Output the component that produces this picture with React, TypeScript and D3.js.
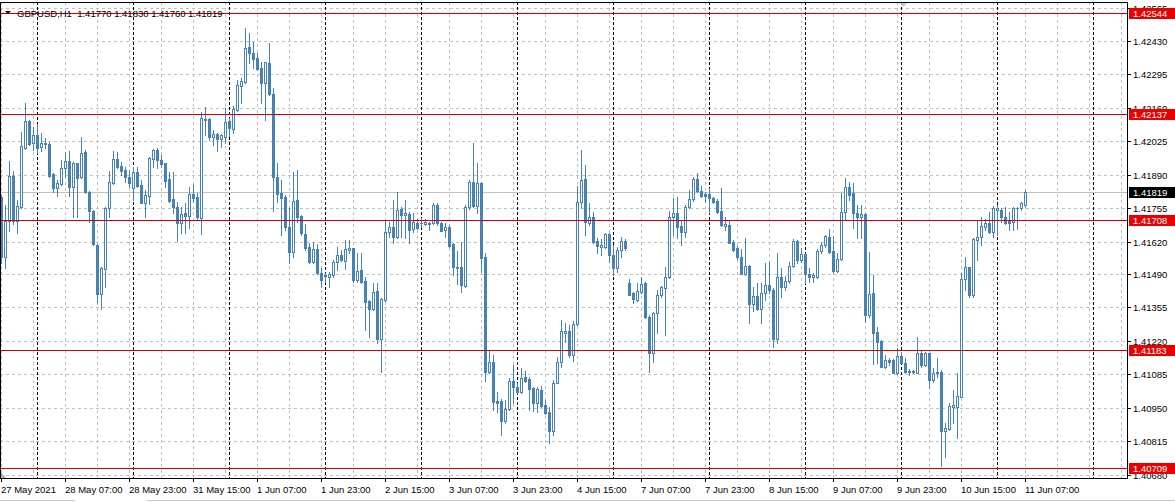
import * as React from "react"
import * as d3 from "d3"

// GBPUSD H1 candles, 27 May 2021 15:00 .. 11 Jun 2021 07:00
const symbol = "GBPUSD,H1"
const firstBar = new Date(2021, 4, 27, 15)

const opens = [
  1.41801, 1.41559, 1.41704, 1.41886, 1.41704, 1.41761, 1.41999, 1.42107, 1.42019, 1.42051,
  1.42003, 1.42019, 1.42015, 1.41894, 1.41837, 1.41854, 1.41918, 1.41947, 1.41841, 1.41938,
  1.41882, 1.41983, 1.41821, 1.41745, 1.41607, 1.4141, 1.4151, 1.41757, 1.41858, 1.41955,
  1.41926, 1.4191, 1.41882, 1.41837, 1.41902, 1.4185, 1.41777, 1.41805, 1.41955, 1.41991,
  1.41951, 1.41938, 1.41874, 1.41793, 1.41761, 1.41696, 1.41737, 1.41724, 1.41813, 1.41801,
  1.41716, 1.42111, 1.42115, 1.42043, 1.42055, 1.42035, 1.42043, 1.42107, 1.42075, 1.42152,
  1.42249, 1.42265, 1.42406, 1.42382, 1.42362, 1.42322, 1.42261, 1.42341, 1.42216, 1.41882,
  1.41817, 1.41801, 1.4168, 1.41579, 1.41789, 1.41724, 1.41652, 1.41599, 1.41539, 1.41591,
  1.41494, 1.41482, 1.41478, 1.41486, 1.41539, 1.41567, 1.41543, 1.41587, 1.41595, 1.41466,
  1.41506, 1.41462, 1.41381, 1.41349, 1.41422, 1.41227, 1.41385, 1.4166, 1.4168, 1.4164,
  1.41753, 1.41728, 1.41733, 1.41672, 1.41696, 1.41696, 1.41692, 1.41696, 1.41696, 1.41769,
  1.41696, 1.41668, 1.4168, 1.41611, 1.41518, 1.41518, 1.41442, 1.41761, 1.41862, 1.41765,
  1.41858, 1.41559, 1.41094, 1.41135, 1.40978, 1.40978, 1.40897, 1.40946, 1.41058, 1.41034,
  1.41013, 1.41074, 1.41066, 1.4103, 1.4097, 1.41021, 1.40962, 1.40934, 1.40857, 1.4105,
  1.41135, 1.41252, 1.4126, 1.41163, 1.41288, 1.41781, 1.41874, 1.41696, 1.4172, 1.41623,
  1.41599, 1.41599, 1.41652, 1.41567, 1.41514, 1.41587, 1.41623, 1.41454, 1.41414, 1.41385,
  1.41418, 1.41454, 1.41317, 1.41171, 1.41333, 1.41406, 1.41434, 1.41478, 1.4172, 1.41737,
  1.41684, 1.4166, 1.41761, 1.41793, 1.41874, 1.41825, 1.41813, 1.41813, 1.41797, 1.41785,
  1.41745, 1.41684, 1.41688, 1.41619, 1.41595, 1.41559, 1.4149, 1.41522, 1.41369, 1.41401,
  1.41349, 1.41414, 1.41446, 1.41426, 1.41227, 1.41478, 1.41438, 1.41462, 1.41522, 1.41623,
  1.41547, 1.41571, 1.4149, 1.41478, 1.41478, 1.41583, 1.41607, 1.4164, 1.41583, 1.41502,
  1.41551, 1.41741, 1.41841, 1.41817, 1.41737, 1.4172, 1.41733, 1.41325, 1.41414, 1.41256,
  1.41219, 1.41114, 1.41143, 1.41143, 1.4109, 1.41159, 1.41131, 1.41098, 1.41094, 1.4109,
  1.41171, 1.41122, 1.41171, 1.41062, 1.4109, 1.41094, 1.40857, 1.40865, 1.40954, 1.40954,
  1.40994, 1.4147, 1.41518, 1.41406, 1.41627, 1.4164, 1.4168, 1.41696, 1.4166, 1.41749,
  1.41749, 1.4172, 1.41708, 1.417, 1.41757, 1.41757, 1.4177,
]

const highs = [
  1.41809, 1.41769, 1.41947, 1.41906, 1.41789, 1.42063, 1.4218, 1.42111, 1.42083, 1.42095,
  1.42059, 1.42039, 1.42023, 1.41898, 1.4187, 1.41951, 1.41983, 1.41987, 1.41943, 1.41938,
  1.42043, 1.41991, 1.41825, 1.41749, 1.41611, 1.41518, 1.41761, 1.41906, 1.41987, 1.41983,
  1.41943, 1.41922, 1.4191, 1.41922, 1.41922, 1.4187, 1.41829, 1.41963, 1.41995, 1.41999,
  1.41971, 1.41938, 1.41902, 1.41902, 1.41781, 1.41761, 1.41777, 1.41841, 1.4185, 1.41817,
  1.42144, 1.42164, 1.42119, 1.42071, 1.42059, 1.42055, 1.4216, 1.42119, 1.42168, 1.42273,
  1.42281, 1.42483, 1.42463, 1.42426, 1.42382, 1.42346, 1.42346, 1.42422, 1.42241, 1.41938,
  1.4187, 1.41809, 1.41757, 1.41902, 1.4191, 1.41728, 1.41692, 1.41615, 1.41619, 1.41611,
  1.41514, 1.41494, 1.41498, 1.41547, 1.41599, 1.41587, 1.41627, 1.41627, 1.41595, 1.41575,
  1.41575, 1.41478, 1.41385, 1.41454, 1.41454, 1.41393, 1.41708, 1.417, 1.41789, 1.41821,
  1.41761, 1.41789, 1.41741, 1.41737, 1.41712, 1.41716, 1.41712, 1.417, 1.41777, 1.41777,
  1.417, 1.41696, 1.41688, 1.41615, 1.41583, 1.41619, 1.41769, 1.4187, 1.42019, 1.41938,
  1.41862, 1.41575, 1.41183, 1.41163, 1.41013, 1.40986, 1.40982, 1.4107, 1.41122, 1.4105,
  1.4111, 1.41098, 1.41074, 1.41034, 1.41034, 1.41038, 1.40982, 1.40954, 1.41062, 1.41155,
  1.41304, 1.41292, 1.41284, 1.413, 1.41845, 1.41991, 1.4193, 1.41777, 1.41741, 1.41636,
  1.41632, 1.41656, 1.41656, 1.41607, 1.41599, 1.4164, 1.41632, 1.4147, 1.41418, 1.41454,
  1.41478, 1.41458, 1.41325, 1.41337, 1.41426, 1.41442, 1.41518, 1.41745, 1.41797, 1.41801,
  1.41708, 1.41769, 1.41829, 1.41882, 1.41898, 1.41845, 1.41821, 1.41837, 1.41801, 1.41793,
  1.41837, 1.4172, 1.41708, 1.41627, 1.41603, 1.41591, 1.41636, 1.41526, 1.41438, 1.41454,
  1.41454, 1.41535, 1.41539, 1.41434, 1.41575, 1.41514, 1.41482, 1.41539, 1.41632, 1.41627,
  1.41595, 1.41575, 1.41514, 1.41494, 1.41591, 1.41619, 1.41648, 1.41672, 1.41644, 1.41575,
  1.41817, 1.41878, 1.41862, 1.41858, 1.41769, 1.41769, 1.41737, 1.41579, 1.41486, 1.41276,
  1.41223, 1.41163, 1.41151, 1.41147, 1.41191, 1.41175, 1.41151, 1.41106, 1.41102, 1.41236,
  1.41179, 1.41175, 1.41171, 1.4111, 1.41151, 1.41102, 1.40889, 1.4097, 1.41021, 1.4109,
  1.41494, 1.41559, 1.41518, 1.41636, 1.41708, 1.4172, 1.41712, 1.41741, 1.41765, 1.41769,
  1.41757, 1.41761, 1.41741, 1.41761, 1.41761, 1.41781, 1.4183,
]

const lows = [
  1.41535, 1.41514, 1.41664, 1.41692, 1.41656, 1.41757, 1.41995, 1.42011, 1.41991, 1.41979,
  1.41987, 1.41999, 1.41882, 1.41821, 1.41805, 1.4185, 1.41882, 1.41805, 1.4172, 1.4172,
  1.41878, 1.41817, 1.417, 1.41607, 1.41377, 1.41349, 1.41438, 1.4172, 1.41854, 1.41918,
  1.4189, 1.41862, 1.41841, 1.41789, 1.41841, 1.41777, 1.4172, 1.41773, 1.41922, 1.41918,
  1.41922, 1.41841, 1.41781, 1.41737, 1.41623, 1.41656, 1.41656, 1.41676, 1.41781, 1.41708,
  1.41652, 1.42051, 1.42031, 1.42011, 1.41987, 1.42003, 1.42019, 1.42047, 1.42059, 1.42148,
  1.4218, 1.42261, 1.42341, 1.42322, 1.42313, 1.4218, 1.42111, 1.42212, 1.41745, 1.41781,
  1.41648, 1.41668, 1.41535, 1.41559, 1.417, 1.41648, 1.41587, 1.41535, 1.41535, 1.4149,
  1.41438, 1.41458, 1.41438, 1.41478, 1.41506, 1.41543, 1.4151, 1.41575, 1.41458, 1.41458,
  1.41454, 1.41264, 1.41236, 1.41345, 1.41211, 1.41094, 1.41381, 1.4164, 1.41615, 1.41636,
  1.4164, 1.41636, 1.41615, 1.4166, 1.41672, 1.4168, 1.41688, 1.41668, 1.41692, 1.41688,
  1.41664, 1.4164, 1.41599, 1.41486, 1.4145, 1.41418, 1.41438, 1.41753, 1.41761, 1.41737,
  1.41498, 1.41058, 1.4109, 1.40942, 1.40934, 1.40841, 1.40889, 1.40942, 1.4097, 1.41009,
  1.41009, 1.41054, 1.40942, 1.40938, 1.40934, 1.40954, 1.40926, 1.40809, 1.40841, 1.4105,
  1.41114, 1.41215, 1.41155, 1.41139, 1.41284, 1.41757, 1.41648, 1.41688, 1.41615, 1.41575,
  1.41567, 1.41595, 1.41539, 1.41486, 1.41498, 1.41559, 1.41587, 1.41406, 1.41373, 1.41381,
  1.41414, 1.41313, 1.41094, 1.41135, 1.41252, 1.41397, 1.41244, 1.41474, 1.41648, 1.41636,
  1.41607, 1.4164, 1.41757, 1.41785, 1.41821, 1.41801, 1.41781, 1.41737, 1.41777, 1.41737,
  1.41684, 1.41668, 1.41615, 1.41583, 1.41551, 1.4149, 1.41486, 1.41292, 1.41341, 1.41345,
  1.41292, 1.41385, 1.41414, 1.41196, 1.41211, 1.41397, 1.41426, 1.41454, 1.41518, 1.41535,
  1.41539, 1.41454, 1.41458, 1.41458, 1.41474, 1.41575, 1.41599, 1.41575, 1.41498, 1.41498,
  1.41547, 1.41712, 1.41789, 1.41676, 1.41636, 1.41636, 1.41296, 1.41317, 1.41127, 1.41131,
  1.41114, 1.4111, 1.41122, 1.4109, 1.41086, 1.41131, 1.4109, 1.41082, 1.4109, 1.4109,
  1.41114, 1.41118, 1.4103, 1.41054, 1.41074, 1.40715, 1.40752, 1.40861, 1.40889, 1.40829,
  1.40994, 1.41426, 1.41397, 1.41397, 1.41547, 1.41607, 1.41668, 1.41656, 1.4164, 1.41648,
  1.417, 1.41692, 1.41668, 1.41668, 1.41672, 1.41749, 1.4176,
]

const closes = [
  1.41559, 1.41704, 1.41886, 1.41704, 1.41765, 1.42007, 1.42107, 1.42015, 1.42051, 1.41999,
  1.42019, 1.42015, 1.41886, 1.41837, 1.41858, 1.41918, 1.41947, 1.41841, 1.41938, 1.41878,
  1.41979, 1.41821, 1.41745, 1.41611, 1.4141, 1.41514, 1.41757, 1.41862, 1.41955, 1.41922,
  1.41906, 1.41882, 1.41858, 1.41902, 1.41845, 1.41777, 1.41809, 1.41959, 1.41991, 1.41951,
  1.41934, 1.41866, 1.41785, 1.41761, 1.41696, 1.41733, 1.41724, 1.41813, 1.41797, 1.4172,
  1.42119, 1.42115, 1.42043, 1.42055, 1.42035, 1.42051, 1.42103, 1.42079, 1.42156, 1.42253,
  1.42269, 1.42402, 1.42382, 1.42358, 1.42318, 1.42261, 1.42346, 1.42216, 1.41882, 1.41813,
  1.41797, 1.4168, 1.41579, 1.41785, 1.4172, 1.41656, 1.41595, 1.41539, 1.41591, 1.41494,
  1.41466, 1.41486, 1.4149, 1.41539, 1.41567, 1.41547, 1.41591, 1.41595, 1.41466, 1.41502,
  1.41458, 1.41377, 1.41349, 1.41418, 1.41227, 1.41389, 1.4166, 1.4168, 1.4164, 1.41749,
  1.41728, 1.41737, 1.41668, 1.417, 1.41676, 1.41696, 1.417, 1.41692, 1.41769, 1.41696,
  1.41664, 1.4168, 1.41603, 1.41518, 1.41514, 1.41446, 1.41761, 1.41862, 1.41765, 1.41858,
  1.41555, 1.41094, 1.41135, 1.40974, 1.4097, 1.40897, 1.40946, 1.41058, 1.41034, 1.41013,
  1.4107, 1.41058, 1.41026, 1.4097, 1.41026, 1.40958, 1.4093, 1.40857, 1.4105, 1.41135,
  1.4126, 1.4126, 1.41163, 1.41288, 1.41781, 1.4187, 1.417, 1.4172, 1.41619, 1.41603,
  1.41607, 1.41652, 1.41567, 1.41514, 1.41587, 1.41623, 1.41595, 1.41406, 1.41389, 1.41422,
  1.4145, 1.41317, 1.41171, 1.41333, 1.41406, 1.41438, 1.41478, 1.4172, 1.41737, 1.4168,
  1.4166, 1.41761, 1.41793, 1.41874, 1.41825, 1.41805, 1.41805, 1.41797, 1.41781, 1.41741,
  1.41688, 1.41692, 1.41615, 1.41587, 1.41559, 1.4149, 1.41522, 1.41369, 1.41401, 1.41349,
  1.41414, 1.41446, 1.41426, 1.41227, 1.41478, 1.41438, 1.41462, 1.41522, 1.41623, 1.41547,
  1.41571, 1.4149, 1.41478, 1.41486, 1.41583, 1.41607, 1.41644, 1.41579, 1.41502, 1.41551,
  1.41741, 1.41841, 1.41809, 1.41737, 1.4172, 1.41733, 1.41325, 1.4141, 1.41252, 1.41215,
  1.41114, 1.41143, 1.41135, 1.4109, 1.41159, 1.41131, 1.41094, 1.41094, 1.41098, 1.41171,
  1.41122, 1.41171, 1.41062, 1.4109, 1.41094, 1.40857, 1.40869, 1.40958, 1.40962, 1.40998,
  1.4147, 1.41518, 1.41406, 1.41632, 1.4164, 1.41684, 1.41696, 1.4166, 1.41757, 1.41757,
  1.4172, 1.41696, 1.41696, 1.41757, 1.41757, 1.41777, 1.41819,
]

// price scale labels and horizontal levels
const priceTicks = [
  "1.42565", "1.42430", "1.42295", "1.42160", "1.42025", "1.41890", "1.41755", "1.41620",
  "1.41490", "1.41355", "1.41220", "1.41085", "1.40950", "1.40815", "1.40680",
]
const levels = [1.42544, 1.42137, 1.41708, 1.41183, 1.40709]

const W = 1175
const H = 502
const plot = { left: 0, right: 1127, top: 2, bottom: 478 }
const candleColor = "#4682b4"
const font = "'Liberation Sans', Arial, sans-serif"

function barTimes(count: number, total: number) {
  const out: Date[] = []
  let t = firstBar
  while (out.length < count) {
    const day = t.getDay()
    if (day !== 0 && day !== 6) out.push(t)
    t = d3.timeHour.offset(t, 1)
  }
  // MT4 keeps counting plain hours into the empty right side
  const last = out[out.length - 1]
  for (let k = 1; out.length < total; k++) out.push(d3.timeHour.offset(last, k))
  return out
}

export default function App() {
  const n = closes.length
  const x = d3.scaleLinear().domain([0, 1]).range([1, 5])
  const y = d3.scaleLinear().domain([1.4243, 1.4068]).range([41, 474.7])
  const lastBar = Math.floor(x.invert(plot.right))
  const times = barTimes(n, lastBar + 1)

  const fmtFirst = d3.timeFormat("%-d %b %Y")
  const fmt = d3.timeFormat("%-d %b %H:%M")

  const px = (v: number) => Math.round(y(v))

  const gridBars = d3.range(0, lastBar + 1, 8)
  const labelBars = d3.range(0, n, 16)
  const separators = d3.range(0, lastBar + 1).filter((i) => times[i].getHours() === 0)
  const last = closes[n - 1]
  const header = `${symbol}  ${[opens[n - 1], highs[n - 1], lows[n - 1], closes[n - 1]]
    .map((v) => v.toFixed(5))
    .join(" ")}`

  return (
    <svg
      width={W}
      height={H}
      viewBox={`0 0 ${W} ${H}`}
      style={{ position: "absolute", left: 0, top: 0, background: "#fff" }}
      fontFamily={font}
    >
      <rect width={W} height={H} fill="#fff" />

      {/* grid */}
      <g stroke="#c0c0c0" strokeDasharray="3,3" shapeRendering="crispEdges">
        {priceTicks.map((t) => (
          <line key={t} x1={plot.left} x2={plot.right} y1={px(+t) + 0.5} y2={px(+t) + 0.5} />
        ))}
        {gridBars.map((i) => (
          <line key={i} x1={x(i) + 0.5} x2={x(i) + 0.5} y1={plot.top} y2={plot.bottom} />
        ))}
      </g>

      {/* day separators */}
      <g stroke="#000" strokeDasharray="3,2" shapeRendering="crispEdges">
        {separators.map((i) => (
          <line key={i} x1={x(i) + 0.5} x2={x(i) + 0.5} y1={plot.top} y2={plot.bottom} />
        ))}
      </g>

      {/* bid line */}
      <line
        x1={plot.left}
        x2={plot.right}
        y1={px(last) + 0.5}
        y2={px(last) + 0.5}
        stroke="#c0c0c0"
        shapeRendering="crispEdges"
      />

      {/* candles */}
      <g shapeRendering="crispEdges">
        {closes.map((c, i) => {
          const o = opens[i]
          const cx = Math.round(x(i))
          const yo = px(o)
          const yc = px(c)
          const top = Math.min(yo, yc)
          const bot = Math.max(yo, yc)
          const bull = c >= o
          return (
            <g key={i}>
              <line
                x1={cx + 0.5}
                x2={cx + 0.5}
                y1={px(highs[i])}
                y2={px(lows[i]) + 1}
                stroke={candleColor}
              />
              {bot - top < 1 ? (
                <rect x={cx - 1} y={top} width={3} height={1} fill={candleColor} />
              ) : bull ? (
                <rect
                  x={cx - 0.5}
                  y={top + 0.5}
                  width={2}
                  height={bot - top}
                  fill="#fff"
                  stroke={candleColor}
                />
              ) : (
                <rect x={cx - 1} y={top} width={3} height={bot - top + 1} fill={candleColor} />
              )}
            </g>
          )
        })}
      </g>

      {/* horizontal levels */}
      <g stroke="#d00000" shapeRendering="crispEdges">
        {levels.map((v) => (
          <line key={v} x1={plot.left} x2={plot.right} y1={px(v) + 0.5} y2={px(v) + 0.5} />
        ))}
      </g>

      {/* frame */}
      <rect
        x={plot.left + 0.5}
        y={plot.top + 0.5}
        width={plot.right - plot.left}
        height={plot.bottom - plot.top}
        fill="none"
        stroke="#000"
        shapeRendering="crispEdges"
      />
      <polygon points="900,3 907,3 903.5,7" fill="#c8c8c8" />
      <polygon points="1,472 1,478 6,478" fill="#b0b0b0" />

      {/* header */}
      <polygon points="5,11 11,11 8,14" fill="#000" />
      <text x={17} y={16.5} fontSize={9.5} fill="#000" style={{ whiteSpace: "pre" }}>
        {header}
      </text>

      {/* price axis */}
      <g fontSize={9.5} fill="#000">
        {priceTicks.map((t) => (
          <g key={t}>
            <line
              x1={plot.right}
              x2={plot.right + 4}
              y1={px(+t) + 0.5}
              y2={px(+t) + 0.5}
              stroke="#000"
              shapeRendering="crispEdges"
            />
            <text x={plot.right + 6} y={px(+t) + 4}>
              {t}
            </text>
          </g>
        ))}
      </g>
      <g fontSize={9.5}>
        {levels.map((v) => (
          <g key={v}>
            <rect x={plot.right + 2} y={px(v) - 5} width={W - plot.right - 2} height={11} fill="#e80000" />
            <text x={plot.right + 6} y={px(v) + 4} fill="#fff">
              {v.toFixed(5)}
            </text>
          </g>
        ))}
        <rect x={plot.right + 2} y={px(last) - 5} width={W - plot.right - 2} height={11} fill="#000" />
        <text x={plot.right + 6} y={px(last) + 4} fill="#fff">
          {last.toFixed(5)}
        </text>
      </g>

      {/* time axis */}
      <g fontSize={9.5} fill="#000">
        {labelBars.map((i) => (
          <g key={i}>
            <line
              x1={x(i) + 0.5}
              x2={x(i) + 0.5}
              y1={plot.bottom}
              y2={plot.bottom + 4}
              stroke="#000"
              shapeRendering="crispEdges"
            />
            <text x={x(i)} y={493}>
              {i === 0 ? fmtFirst(times[i]) : fmt(times[i])}
            </text>
          </g>
        ))}
      </g>
      <line x1={0} x2={75} y1={500.5} y2={500.5} stroke="#c8c8c8" />
      <line x1={147} x2={W} y1={500.5} y2={500.5} stroke="#c8c8c8" />
    </svg>
  )
}
